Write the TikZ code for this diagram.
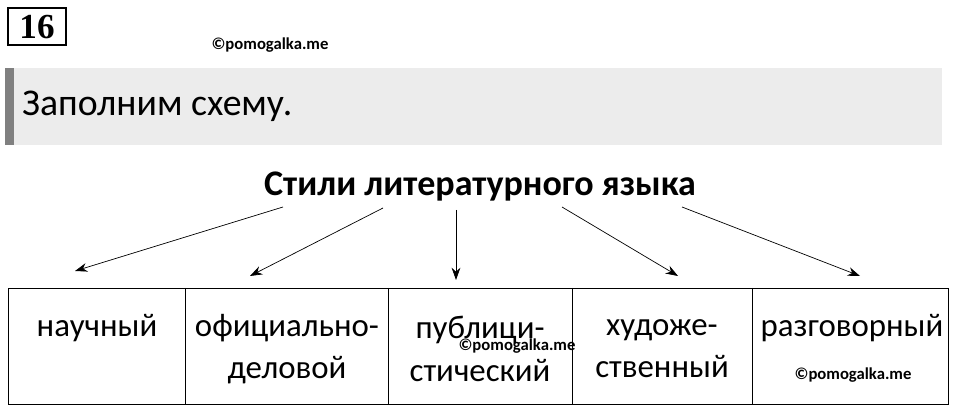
\documentclass[tikz,border=0pt]{standalone}
\usepackage{fontspec}
\setmainfont{Carlito}
\newfontfamily\numfont{Liberation Serif}
\usetikzlibrary{arrows.meta}
\definecolor{band}{RGB}{236,236,236}
\definecolor{bar}{RGB}{128,128,128}
\begin{document}
\begin{tikzpicture}[x=0.02cm, y=-0.02cm, >={Stealth[length=7pt,width=5pt]},
  cell/.style={font=\fontsize{18.7}{24}\selectfont, align=center},
  wmark/.style={font=\bfseries\fontsize{9.5}{12}\selectfont},
  arr/.style={->, thin}]
  \useasboundingbox (0,0) rectangle (960,411);
  % number box
  \draw[thick] (8,8) rectangle (66,45);
  \node[font=\numfont\bfseries\fontsize{20}{22}\selectfont] (num) at (37,27) {16};
  \node[wmark] (wm1) at (270,45) {©pomogalka.me};
  % task band
  \fill[band] (5,68) rectangle (942,145);
  \fill[bar] (5,68) rectangle (14,145);
  \node[anchor=west, font=\fontsize{21.5}{24}\selectfont] (task) at (16,106) {Заполним схему.};
  % title
  \node[font=\bfseries\fontsize{20.5}{24}\selectfont] (title) at (480,187) {Стили литературного языка};
  % table
  \draw (8,288) rectangle (948,404);
  \foreach \x in {185,388,572,752} \draw (\x,288) -- (\x,404);
  \node[cell] (nauch) at (97,328) {научный};
  \node[cell] (ofic) at (287,349) {официально-\\деловой};
  \node[cell] (publ) at (480,349) {публици-\\стический};
  \node[cell] (hud) at (662,349) {художе-\\ственный};
  \node[cell] (razg) at (852,328) {разговорный};
  \node[wmark] (wm2) at (517,346) {©pomogalka.me};
  \node[wmark] (wm3) at (853,375) {©pomogalka.me};
  % arrows
  \coordinate (s1) at (283,207);
  \coordinate (s2) at (383,208);
  \coordinate (s3) at (456,210);
  \coordinate (s4) at (562,207);
  \coordinate (s5) at (682,207);
  \coordinate (a1) at (75,271);
  \coordinate (a2) at (250,276);
  \coordinate (a3) at (456,280);
  \coordinate (a4) at (678,276);
  \coordinate (a5) at (860,276);
  \foreach \i in {1,...,5} \draw[arr] (s\i) -- (a\i);
\end{tikzpicture}
\end{document}
